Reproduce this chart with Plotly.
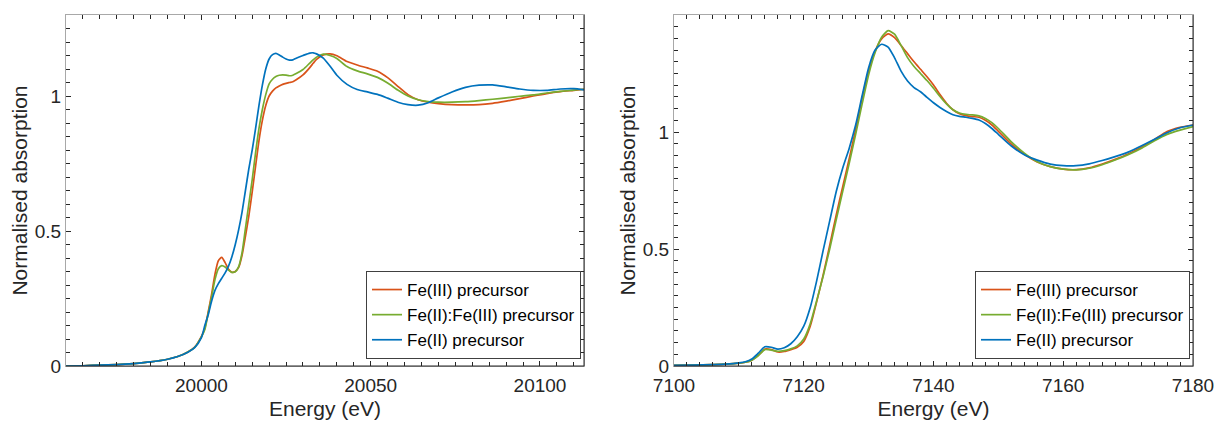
import plotly.graph_objects as go

# ---------------- data: Fe K-edge (left) ----------------
fe_k_energy = [19960, 19965, 19970, 19975, 19980, 19985, 19990, 19993, 19996, 19998,
               20000, 20001, 20002, 20003, 20004, 20005, 20006, 20007, 20008, 20009,
               20010, 20011, 20012, 20013, 20014, 20015, 20016, 20017, 20018, 20019,
               20020, 20021, 20022, 20023, 20024, 20025, 20026, 20027, 20028, 20030,
               20032, 20033, 20034, 20036, 20038, 20040, 20043, 20046, 20049, 20052,
               20055, 20058, 20061, 20064, 20067, 20070, 20074, 20078, 20082, 20086,
               20090, 20094, 20098, 20102, 20106, 20110, 20113]

left_fe3 = [0.000, 0.001, 0.003, 0.005, 0.009, 0.015, 0.025, 0.035, 0.052, 0.070,
            0.110, 0.140, 0.200, 0.265, 0.340, 0.390, 0.402, 0.383, 0.358, 0.347,
            0.350, 0.365, 0.410, 0.480, 0.555, 0.645, 0.740, 0.835, 0.910, 0.965,
            1.000, 1.018, 1.030, 1.037, 1.043, 1.047, 1.050, 1.053, 1.060, 1.078,
            1.105, 1.121, 1.136, 1.152, 1.156, 1.149, 1.128, 1.115, 1.104, 1.092,
            1.068, 1.036, 1.005, 0.986, 0.977, 0.972, 0.968, 0.967, 0.968, 0.973,
            0.981, 0.990, 1.000, 1.009, 1.016, 1.021, 1.025]

left_mixed = [0.000, 0.001, 0.003, 0.005, 0.009, 0.015, 0.025, 0.035, 0.052, 0.069,
              0.108, 0.135, 0.195, 0.255, 0.320, 0.360, 0.372, 0.367, 0.355, 0.347,
              0.349, 0.368, 0.420, 0.510, 0.600, 0.690, 0.790, 0.880, 0.950, 1.005,
              1.045, 1.062, 1.072, 1.077, 1.078, 1.077, 1.075, 1.077, 1.083, 1.098,
              1.122, 1.134, 1.144, 1.155, 1.150, 1.139, 1.109, 1.093, 1.082, 1.069,
              1.048, 1.022, 1.000, 0.986, 0.979, 0.977, 0.977, 0.979, 0.983, 0.988,
              0.993, 0.999, 1.004, 1.011, 1.017, 1.022, 1.025]

left_fe2 = [0.000, 0.001, 0.003, 0.005, 0.009, 0.015, 0.025, 0.035, 0.051, 0.068,
            0.105, 0.150, 0.190, 0.240, 0.280, 0.305, 0.325, 0.345, 0.370, 0.405,
            0.450, 0.505, 0.570, 0.650, 0.730, 0.800, 0.880, 0.965, 1.040, 1.100,
            1.137, 1.153, 1.158, 1.152, 1.144, 1.137, 1.133, 1.134, 1.140, 1.150,
            1.159, 1.160, 1.156, 1.140, 1.110, 1.077, 1.043, 1.024, 1.015, 1.006,
            0.992, 0.977, 0.968, 0.966, 0.975, 0.993, 1.015, 1.032, 1.040, 1.041,
            1.034, 1.026, 1.021, 1.021, 1.026, 1.027, 1.023]

# ---------------- data: Fe K-edge (right) ----------------
fe_energy_r = [7100, 7103, 7106, 7108, 7110, 7111, 7112, 7113, 7114, 7115,
               7116, 7117, 7118, 7119, 7120, 7121, 7122, 7123, 7124, 7125,
               7126, 7127, 7128, 7129, 7130, 7131, 7132, 7133, 7134, 7135,
               7136, 7137, 7138, 7139, 7140, 7141, 7142, 7143, 7144, 7145,
               7146, 7147, 7148, 7149, 7150, 7152, 7154, 7156, 7158, 7160,
               7162, 7164, 7166, 7168, 7170, 7172, 7174, 7176, 7178, 7180]

right_fe3 = [0.003, 0.004, 0.006, 0.008, 0.012, 0.016, 0.025, 0.045, 0.072, 0.070,
             0.060, 0.062, 0.070, 0.080, 0.105, 0.170, 0.275, 0.390, 0.515, 0.645,
             0.765, 0.885, 1.010, 1.145, 1.260, 1.345, 1.398, 1.419, 1.403, 1.370,
             1.335, 1.300, 1.268, 1.236, 1.201, 1.160, 1.123, 1.095, 1.078, 1.070,
             1.066, 1.063, 1.050, 1.030, 1.003, 0.948, 0.905, 0.872, 0.852, 0.841,
             0.839, 0.847, 0.863, 0.883, 0.906, 0.935, 0.967, 1.002, 1.020, 1.030]

right_mixed = [0.003, 0.004, 0.006, 0.008, 0.012, 0.016, 0.025, 0.045, 0.070, 0.068,
               0.063, 0.066, 0.073, 0.086, 0.115, 0.180, 0.280, 0.385, 0.500, 0.625,
               0.745, 0.865, 0.990, 1.120, 1.245, 1.340, 1.405, 1.433, 1.418, 1.370,
               1.318, 1.280, 1.250, 1.220, 1.187, 1.152, 1.120, 1.095, 1.081, 1.075,
               1.073, 1.069, 1.058, 1.040, 1.015, 0.958, 0.910, 0.873, 0.852, 0.841,
               0.838, 0.845, 0.860, 0.880, 0.903, 0.930, 0.962, 0.990, 1.008, 1.023]

right_fe2 = [0.003, 0.004, 0.006, 0.008, 0.013, 0.018, 0.030, 0.055, 0.082, 0.080,
             0.072, 0.078, 0.095, 0.125, 0.170, 0.250, 0.365, 0.495, 0.620, 0.745,
             0.845, 0.930, 1.030, 1.155, 1.275, 1.350, 1.375, 1.363, 1.317, 1.260,
             1.218, 1.190, 1.172, 1.148, 1.125, 1.105, 1.088, 1.074, 1.067, 1.063,
             1.058, 1.051, 1.036, 1.015, 0.990, 0.940, 0.903, 0.880, 0.863, 0.856,
             0.856, 0.864, 0.878, 0.895, 0.914, 0.940, 0.968, 0.997, 1.018, 1.030]

series_names = ["Fe(III) precursor", "Fe(II):Fe(III) precursor", "Fe(II) precursor"]
series_colors = ["#D95319", "#77AC30", "#0072BD"]

left_tickvals = [20000, 20050, 20100]
right_tickvals = [7100, 7120, 7140, 7160, 7180]
y_tickvals = [0, 0.5, 1]
y_ticktext = ["0", "0.5", "1"]

FONT = "Liberation Sans, Arial, Helvetica, sans-serif"
TXT = "#262626"

W, H = 1215, 424

fig = go.Figure()
left_sets = [left_fe3, left_mixed, left_fe2]
right_sets = [right_fe3, right_mixed, right_fe2]
for name, col, ys in zip(series_names, series_colors, left_sets):
    fig.add_trace(go.Scatter(x=fe_k_energy, y=ys, mode="lines", name=name,
                             line=dict(color=col, width=1.7, shape="spline", smoothing=0.6),
                             xaxis="x", yaxis="y", legend="legend"))
for name, col, ys in zip(series_names, series_colors, right_sets):
    fig.add_trace(go.Scatter(x=fe_energy_r, y=ys, mode="lines", name=name,
                             line=dict(color=col, width=1.7, shape="spline", smoothing=0.6),
                             xaxis="x2", yaxis="y2", legend="legend2"))

axis_common = dict(showgrid=False, zeroline=False, showline=True, linecolor="#a8a8a8",
                   linewidth=1, mirror="ticks", ticks="inside", ticklen=5,
                   tickcolor=TXT, tickwidth=1, automargin=False,
                   tickfont=dict(family=FONT, size=19, color=TXT))

title_font = dict(family=FONT, size=21, color=TXT)


def px_x(p):
    return p / W


def px_y(p):
    return (H - p) / H


ydom = [px_y(366), px_y(15)]
fig.update_layout(
    width=W, height=H, autosize=False,
    margin=dict(l=0, r=0, t=0, b=0),
    paper_bgcolor="white", plot_bgcolor="white",
    showlegend=True,
    xaxis=dict(**axis_common, domain=[px_x(66), px_x(584)], range=[19960, 20113],
               tickmode="array", tickvals=left_tickvals, tickformat="d",
               minor=dict(dtick=5, tick0=19960, ticks="inside", ticklen=4, tickcolor=TXT),
               title=dict(text="Energy (eV)", font=title_font, standoff=6),
               ticklabelstandoff=2, anchor="y"),
    yaxis=dict(**axis_common, domain=ydom, range=[0, 1.3],
               tickmode="array", tickvals=y_tickvals, ticktext=y_ticktext,
               minor=dict(dtick=0.05, tick0=0, ticks="inside", ticklen=4, tickcolor=TXT),
               title=dict(text="Normalised absorption", font=title_font, standoff=1),
               ticklabelstandoff=0, anchor="x"),
    xaxis2=dict(**axis_common, domain=[px_x(674), px_x(1193)], range=[7100, 7180],
                tickmode="array", tickvals=right_tickvals, tickformat="d",
                minor=dict(dtick=2, tick0=7100, ticks="inside", ticklen=4, tickcolor=TXT),
                title=dict(text="Energy (eV)", font=title_font, standoff=6),
                ticklabelstandoff=2, anchor="y2"),
    yaxis2=dict(**axis_common, domain=ydom, range=[0, 1.5],
                tickmode="array", tickvals=y_tickvals, ticktext=y_ticktext,
                minor=dict(dtick=0.05, tick0=0, ticks="inside", ticklen=4, tickcolor=TXT),
                title=dict(text="Normalised absorption", font=title_font, standoff=1),
                ticklabelstandoff=0, anchor="x2"),
    legend=dict(x=px_x(581), y=px_y(359), xanchor="right", yanchor="bottom",
                bgcolor="white", bordercolor="#404040", borderwidth=1,
                font=dict(family=FONT, size=17, color="black"), tracegroupgap=0),
    legend2=dict(x=px_x(1190), y=px_y(359), xanchor="right", yanchor="bottom",
                 bgcolor="white", bordercolor="#404040", borderwidth=1,
                 font=dict(family=FONT, size=17, color="black"), tracegroupgap=0),
)

# darker bottom / right box edges as in the reference
for xr, yr in (("x domain", "y domain"), ("x2 domain", "y2 domain")):
    fig.add_shape(type="line", xref=xr, yref=yr, x0=0, x1=1, y0=0, y1=0,
                  line=dict(color=TXT, width=1))
    fig.add_shape(type="line", xref=xr, yref=yr, x0=1, x1=1, y0=0, y1=1,
                  line=dict(color=TXT, width=1))

# remove the default page margin so the 1215x424 figure fills the window exactly
fig.write_html("out.html", config={"displayModeBar": False},
               post_script="document.body.style.margin='0';document.body.style.overflow='hidden';")
